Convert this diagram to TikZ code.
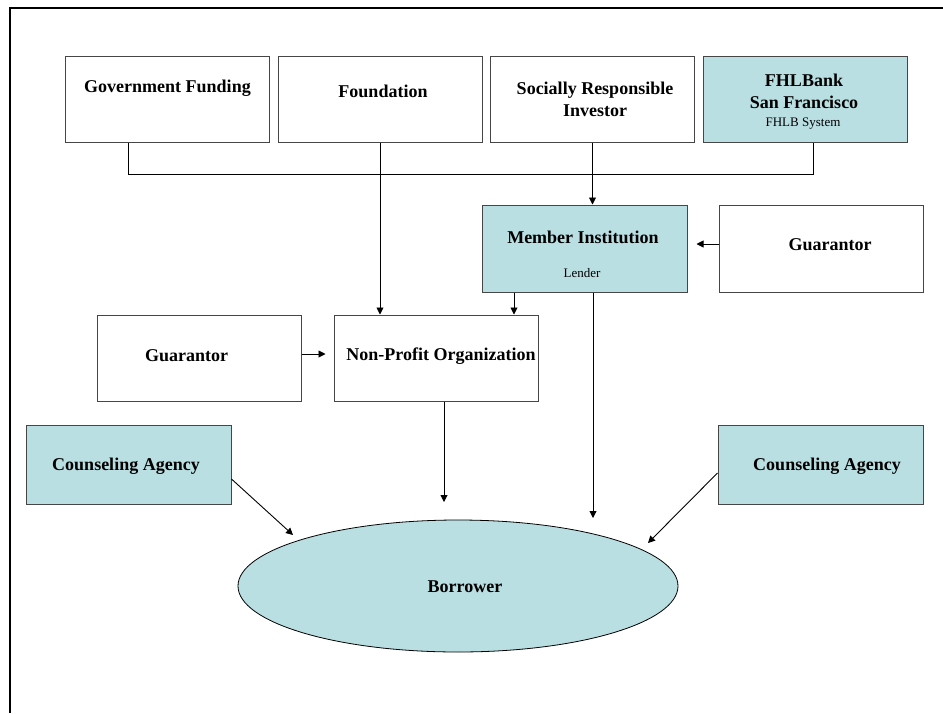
\documentclass[tikz,border=0pt]{standalone}
\usepackage{fontspec}
\setmainfont{Liberation Serif}
\usetikzlibrary{arrows.meta,shapes.geometric}
\definecolor{teal1}{RGB}{185,223,227}
\definecolor{boxline}{RGB}{70,70,70}
\tikzset{
  box/.style={draw=boxline, line width=1pt, minimum width=204pt, minimum height=86pt, inner sep=0pt},
  tealbox/.style={box, fill=teal1},
  lbl/.style={font=\fontsize{18}{22}\selectfont\bfseries, align=center, inner sep=0pt},
  sublbl/.style={font=\fontsize{13}{15}\selectfont, inner sep=0pt},
  conn/.style={line width=0.9pt, draw=black},
  arr/.style={conn, -{Triangle[length=7pt,width=7pt]}},
}
\begin{document}
\begin{tikzpicture}[x=1pt,y=-1pt]
\useasboundingbox (0,0) rectangle (943,713);
\draw[line width=2pt] (10,713) -- (10,8) -- (943,8);
% top row
\node[box] (gov) at (167,99) {};
\node[box] (fnd) at (380,99) {};
\node[box] (sri) at (592.5,99) {};
\node[tealbox] (fhl) at (805,99) {};
\node[lbl] (govt) at (167.5,88) {Government Funding};
\node[lbl] (fndt) at (383,91) {Foundation};
\node[lbl] (srit) at (595,99) {Socially Responsible\\Investor};
\node[lbl] (fhlt) at (804,91) {FHLBank\\San Francisco};
\node[sublbl] (fhls) at (803,124) {FHLB System};
% middle
\node[tealbox, minimum width=205pt, minimum height=87pt] (mem) at (584.5,248.5) {};
\node[box, minimum height=87pt] (gr) at (821,248.5) {};
\node[lbl] (memt) at (583,237) {Member Institution};
\node[sublbl] (memls) at (582,273) {Lender};
\node[lbl] (grt) at (830,245) {Guarantor};
\node[box] (gl) at (199,358) {};
\node[box] (np) at (436,358) {};
\node[lbl] (glt) at (186.5,356) {Guarantor};
\node[lbl] (npt) at (441,356) {Non-Profit Organization};
% bottom
\node[tealbox, minimum width=205pt, minimum height=79pt] (cl) at (128.5,464.5) {};
\node[tealbox, minimum width=205pt, minimum height=79pt] (cr) at (820.5,464.5) {};
\node[lbl] (clt) at (126,466) {Counseling Agency};
\node[lbl] (crt) at (827,466) {Counseling Agency};
\node[ellipse, draw=black, line width=0.8pt, fill=teal1, minimum width=440pt, minimum height=132pt, inner sep=0pt] (bor) at (458,586) {};
\node[lbl] (bort) at (465,587) {Borrower};
% coordinates
\coordinate (busL) at (128,174);
\coordinate (busR) at (813,174);
\coordinate (mnp) at (514,300);
\coordinate (mb) at (593,518);
\coordinate (npb) at (444,502);
\coordinate (clb) at (293,535);
\coordinate (crb) at (648,543);
% connectors
\draw[conn] (gov.south -| busL) -- (busL) -- (busR) -- (fhl.south -| busR);
\draw[arr] (fnd.south) -- (fnd.south |- np.north);
\draw[arr] (sri.south) -- (sri.south |- mem.north);
\draw[arr, shorten >=9pt] ([yshift=4.5pt]gr.west) -- ([yshift=4.5pt]mem.east);
\draw[arr] (mem.south -| mnp) -- (np.north -| mnp);
\draw[arr] (mem.south -| mb) -- (mb);
\draw[arr, shorten >=8pt] ([yshift=4pt]gl.east) -- ([yshift=4pt]np.west);
\draw[arr] (np.south -| npb) -- (npb);
\draw[arr] ([yshift=-14.5pt]cl.east) -- (clb);
\draw[arr] ([yshift=-8.5pt]cr.west) -- (crb);
\end{tikzpicture}
\end{document}
